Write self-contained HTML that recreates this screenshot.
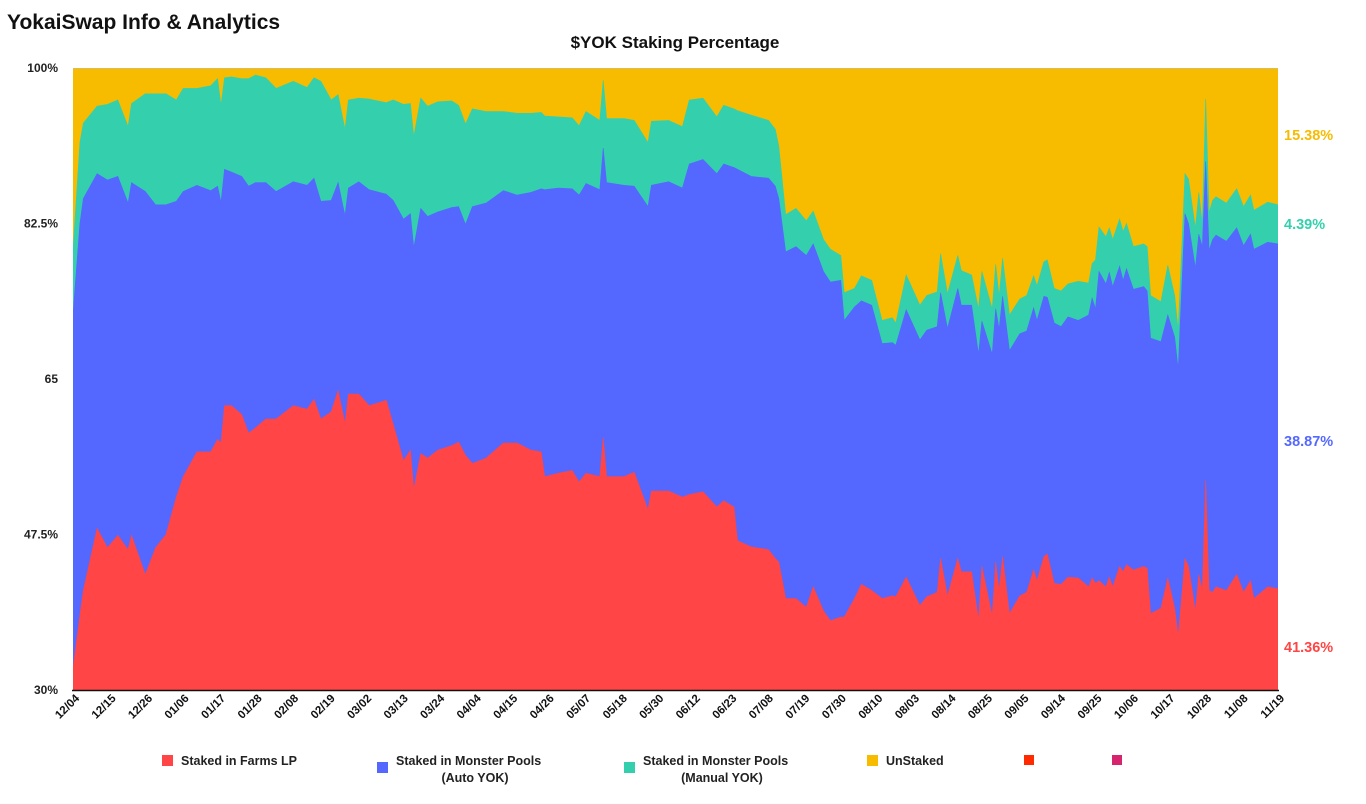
<!DOCTYPE html>
<html><head><meta charset="utf-8"><style>
html,body{margin:0;padding:0;background:#fff;overflow:hidden;font-family:"Liberation Sans",Arial,sans-serif;}
svg{display:block;}
svg text{font-family:"Liberation Sans",Arial,sans-serif;font-weight:bold;}
</style></head><body>
<svg id="chart" width="1366" height="804" viewBox="0 0 1366 804" xmlns="http://www.w3.org/2000/svg">
<text x="7" y="29" font-size="21" fill="#111">YokaiSwap Info &amp; Analytics</text>
<text x="675" y="48" font-size="17" text-anchor="middle" fill="#111">$YOK Staking Percentage</text>
<defs><clipPath id="plotclip"><rect x="73" y="68" width="1205" height="622"/></clipPath></defs>
<g id="areas" clip-path="url(#plotclip)"></g>
<line x1="73" y1="68.5" x2="1278" y2="68.5" stroke="#bbb" stroke-dasharray="1,1"/>
<line x1="72" y1="690.5" x2="1279" y2="690.5" stroke="#111" stroke-width="1.5"/>
<g id="yticks"></g><g id="xticks"></g><g id="endlabels"></g>
<g>
<rect x="162" y="755" width="11" height="11" fill="#ff4545"/>
<text x="181" y="765" font-size="12.5" fill="#222">Staked in Farms LP</text>
<rect x="377" y="762" width="11" height="11" fill="#5468ff"/>
<text x="396" y="765" font-size="12.5" fill="#222">Staked in Monster Pools</text>
<text x="475" y="782" font-size="12.5" text-anchor="middle" fill="#222">(Auto YOK)</text>
<rect x="624" y="762" width="11" height="11" fill="#34d0ad"/>
<text x="643" y="765" font-size="12.5" fill="#222">Staked in Monster Pools</text>
<text x="722" y="782" font-size="12.5" text-anchor="middle" fill="#222">(Manual YOK)</text>
<rect x="867" y="755" width="11" height="11" fill="#f7bb00"/>
<text x="886" y="765" font-size="12.5" fill="#222">UnStaked</text>
<rect x="1024" y="755" width="10" height="10" fill="#ff2a00"/>
<rect x="1112" y="755" width="10" height="10" fill="#d6246e"/>
</g>
</svg>
<script>
const days=[0,2,3,7,10,13,16,17,21,24,27,30,32,36,40,42,43,44,46,49,51,53,56,59,64,68,70,72,75,77,79,80,83,86,91,93,96,98,99,101,103,106,110,112,114,116,120,125,129,133,136,137,141,145,147,149,153,154,155,160,163,167,168,173,177,179,183,187,189,192,193,197,202,204,205,207,210,213,215,218,220,223,224,227,229,232,235,238,239,242,246,248,251,252,254,257,258,261,263,264,267,268,269,270,272,275,277,279,280,282,283,285,287,289,292,295,296,297,298,300,301,302,304,305,306,308,311,312,313,316,318,320,321,323,324,326,327,328,329,330,331,332,335,338,340,342,343,347,350];
const farms=[32.4,38.4,41.2,48.2,46.0,47.4,45.8,47.4,43.0,46.0,47.5,51.7,54.0,56.8,56.8,58.2,57.8,62.0,62.0,61.0,58.9,59.5,60.5,60.5,62.0,61.6,62.7,60.5,61.3,63.7,60.0,63.3,63.3,62.0,62.6,59.9,55.8,57.0,52.6,56.6,56.1,57.0,57.5,57.9,56.4,55.5,56.1,57.8,57.8,57.0,56.8,54.0,54.4,54.7,53.4,54.4,54.0,58.4,54.0,54.0,54.5,50.3,52.4,52.4,51.7,52.0,52.3,50.6,51.3,50.6,46.8,46.1,45.8,44.8,44.4,40.3,40.3,39.3,41.6,38.9,37.8,38.2,38.2,40.3,41.9,41.2,40.3,40.6,40.5,42.7,39.5,40.5,41.0,44.8,40.6,44.8,43.3,43.3,37.9,43.9,38.4,44.4,41.2,45.0,38.6,40.6,41.0,43.5,42.3,45.0,45.3,42.0,41.9,42.7,42.6,41.6,42.6,42.0,42.3,41.6,42.7,41.6,43.9,43.3,44.1,43.5,43.9,43.7,38.6,39.2,42.6,39.2,36.1,44.8,43.9,38.9,43.0,41.2,53.6,41.2,41.0,41.6,41.2,43.0,41.0,42.3,40.3,41.6,41.4];
const autoYok=[39.9,44.1,44.1,39.9,41.4,40.4,39.0,39.7,43.1,38.6,37.1,33.3,32.1,30.0,29.4,28.5,27.1,26.6,26.3,26.8,27.8,27.6,26.6,25.6,25.2,25.2,24.9,24.5,23.8,23.4,23.4,23.2,23.9,24.3,23.2,25.2,27.2,26.6,27.2,27.6,27.2,26.8,26.8,26.5,26.0,28.9,28.7,28.4,27.9,29.0,29.6,32.3,32.1,31.7,32.3,32.6,32.3,32.6,33.1,32.8,32.2,34.1,34.4,34.8,34.8,37.2,37.4,37.5,37.9,38.2,41.8,41.7,41.8,41.9,40.9,39.0,39.6,39.6,38.6,38.2,38.1,37.9,33.4,32.8,31.9,32.1,28.7,28.5,28.3,30.1,29.9,30.0,29.9,29.9,30.1,30.4,30.0,30.0,29.9,27.6,29.4,28.5,29.4,29.3,29.6,29.5,29.4,29.5,29.3,29.3,28.9,29.3,29.0,29.3,29.0,30.6,31.5,30.9,34.8,34.1,34.3,33.8,33.8,32.8,33.3,31.6,31.5,31.2,31.0,30.0,29.6,30.5,30.0,38.8,38.6,38.6,38.3,38.7,35.9,38.3,39.7,39.6,39.3,39.0,39.0,39.0,39.3,38.8,38.8];
const manualYok=[7.2,9.1,8.5,7.6,8.5,8.6,8.6,8.9,11.0,12.5,12.5,11.4,11.6,10.9,11.8,12.1,10.9,10.3,10.7,11.0,12.1,12.1,11.8,11.6,11.3,11.0,11.3,13.5,11.3,9.9,9.7,9.9,9.4,10.2,10.3,11.3,12.9,12.4,12.5,12.4,12.4,12.4,12.0,11.4,11.3,11.0,10.3,8.9,9.2,8.9,8.6,8.3,8.0,8.0,7.8,8.1,7.8,7.6,7.2,7.5,7.4,7.2,7.2,6.9,6.9,7.2,6.9,6.4,6.6,6.6,6.6,6.9,6.5,6.4,5.9,4.2,4.3,3.9,3.7,3.6,3.7,2.8,3.1,2.1,2.8,2.8,2.6,2.8,2.5,3.9,3.9,3.9,3.9,4.4,3.9,3.7,3.9,3.4,5.1,5.6,5.1,5.0,3.7,4.3,4.0,3.9,4.0,3.6,3.9,3.9,4.2,3.9,4.0,3.7,4.4,3.6,3.9,5.5,5.0,5.3,5.0,5.3,5.3,5.5,5.1,4.8,4.8,5.0,4.8,4.5,5.6,4.7,4.4,4.5,5.0,4.5,4.7,2.6,7.0,4.2,4.4,4.3,4.3,4.4,4.4,4.4,4.4,4.5,4.4];
const xLabels=["12/04","12/15","12/26","01/06","01/17","01/28","02/08","02/19","03/02","03/13","03/24","04/04","04/15","04/26","05/07","05/18","05/30","06/12","06/23","07/08","07/19","07/30","08/10","08/03","08/14","08/25","09/05","09/14","09/25","10/06","10/17","10/28","11/08","11/19"];
const yTicks=[100,82.5,65,47.5,30];
const yTickText=["100%","82.5%","65","47.5%","30%"];
const endValues=["15.38%","4.39%","38.87%","41.36%"];

const NS="http://www.w3.org/2000/svg";
const X0=73,X1=1278,Y0=68,Y1=690,YMIN=30,YMAX=100,DMAX=350;
const xs=d=>X0+(d/DMAX)*(X1-X0);
const ys=v=>Y1-(v-YMIN)/(YMAX-YMIN)*(Y1-Y0);
function mk(tag,attrs,parent){const e=document.createElementNS(NS,tag);for(const k in attrs)e.setAttribute(k,attrs[k]);parent.appendChild(e);return e;}
const areas=document.getElementById('areas');
const c1=farms.map(v=>v), c2=farms.map((v,i)=>v+autoYok[i]), c3=c2.map((v,i)=>v+manualYok[i]);
function band(lo,hi){let p=days.map((d,i)=>xs(d).toFixed(1)+','+ys(hi[i]).toFixed(1));
 for(let i=days.length-1;i>=0;i--)p.push(xs(days[i]).toFixed(1)+','+ys(lo[i]).toFixed(1));return p.join(' ');}
const zeros=days.map(()=>0), full=days.map(()=>100);
const bands=[[c3,full,'#f7bb00','area-unstaked'],[c2,c3,'#34d0ad','area-manual-yok'],[c1,c2,'#5468ff','area-auto-yok'],[zeros,c1,'#ff4545','area-farms-lp']];
bands.forEach(b=>{const e=mk('polygon',{points:band(b[0],b[1]),fill:b[2],stroke:b[2],'stroke-width':0.6},areas);

});
const yt=document.getElementById('yticks');
yTicks.forEach((v,i)=>{const t=mk('text',{x:58,y:ys(v)+4,'font-size':12,'text-anchor':'end',fill:'#222'},yt);t.textContent=yTickText[i];

});
const xt=document.getElementById('xticks');
xLabels.forEach((l,i)=>{const x=X0+i*(X1-X0)/(xLabels.length-1)+7;const t=mk('text',{x:x,y:699,'font-size':11.5,'text-anchor':'end',fill:'#111',transform:`rotate(-45 ${x} 699)`},xt);t.textContent=l;

});
const el=document.getElementById('endlabels');const ecol=['#f7bb00','#34d0ad','#5468ff','#ff4545'];
const eNames=['end-label-unstaked','end-label-manual','end-label-auto','end-label-farms'];
const eY=[135,224,441,647];
endValues.forEach((s,i)=>{const t=mk('text',{x:1284,y:eY[i]+5,'font-size':14.5,fill:ecol[i]},el);t.textContent=s;

});
</script>
</body></html>
